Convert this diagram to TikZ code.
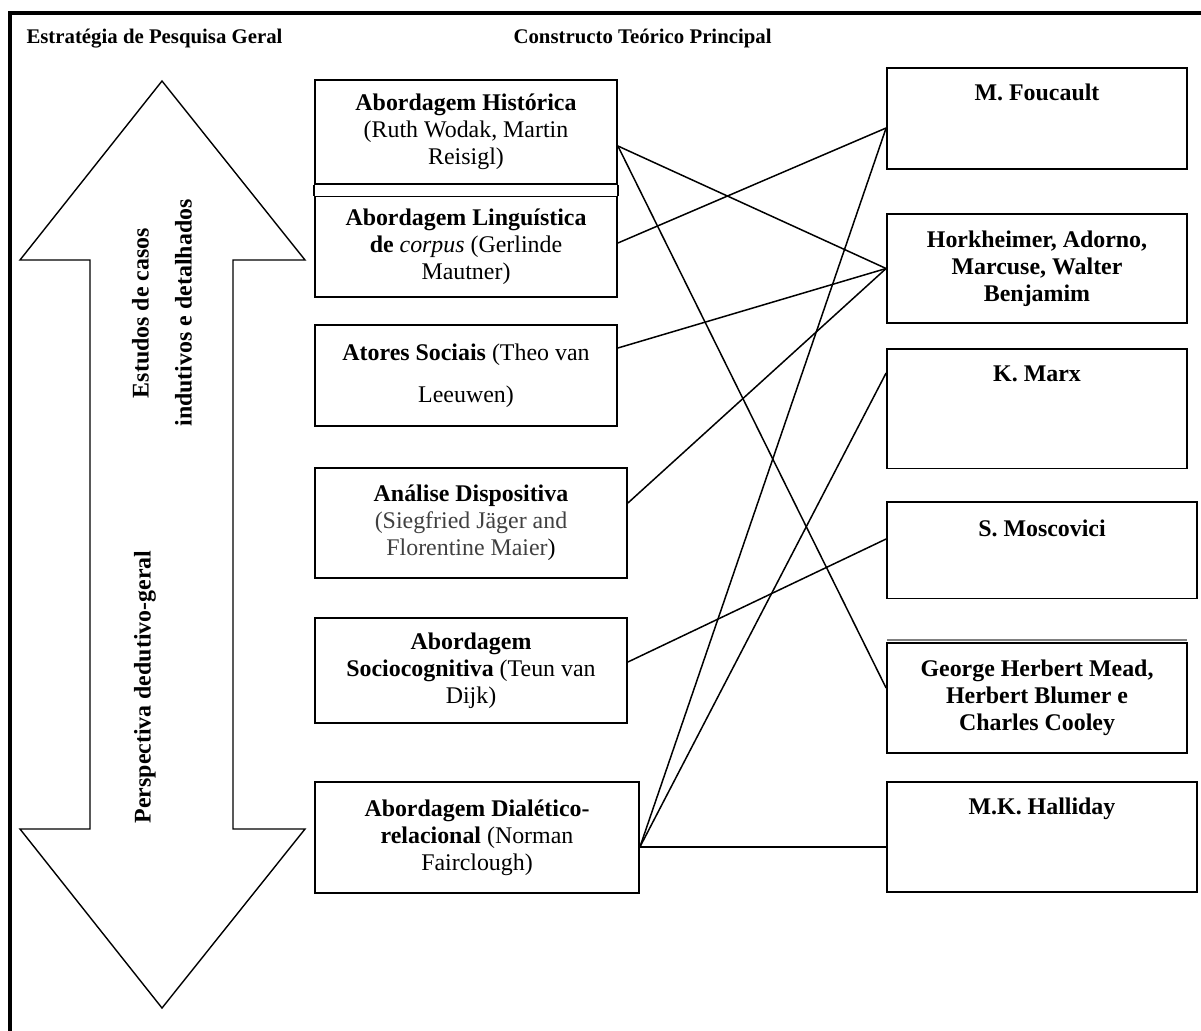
\documentclass[tikz,border=0pt]{standalone}
\usepackage{fontspec}
\setmainfont{Liberation Serif}
\definecolor{namegray}{HTML}{404040}
\newcommand{\boxfont}{\fontsize{23.9}{27}\selectfont}
\newcommand{\headfont}{\fontsize{20.8}{24}\selectfont\bfseries}
\tikzset{
	box/.style={draw,line width=1.8pt,inner sep=0pt,align=center,font=\boxfont},
	toptext/.style={anchor=base,yshift=-33pt,font=\boxfont\bfseries},
	link/.style={line width=1.5pt},
}
\begin{document}
\begin{tikzpicture}[x=1pt,y=-1pt]
			\useasboundingbox (0,0) rectangle (1201,1030);
			% Frame
			\draw[line width=4pt] (10,1040) -- (10,13) -- (1210,13);
			\node[anchor=base west,font=\headfont] (strat) at (23,43.5) {Estratégia de Pesquisa Geral};
			\node[anchor=base west,font=\headfont] (constr) at (510,43.5) {Constructo Teórico Principal};
			% Double arrow
			\draw[line width=1.4pt,line join=miter] (162,81) -- (305,260) -- (233,260) -- (233,829) -- (305,829) -- (162,1008) -- (20,829) -- (90,829) -- (90,260) -- (20,260) -- cycle;
			\node[rotate=90,align=center,font=\boxfont\bfseries] (indut) at (162,313) {Estudos de casos\\[16pt]indutivos e detalhados};
			\node[rotate=90,font=\boxfont\bfseries] (dedut) at (145,687) {Perspectiva dedutivo-geral};
			% Approaches
			\node[box,minimum width=302pt,minimum height=104pt] (hist) at (466,132) {\textbf{Abordagem Histórica}\\(Ruth Wodak, Martin\\Reisigl)};
			\node[box,minimum width=302pt,minimum height=100.5pt] (ling) at (466,246.75) {\textbf{Abordagem Linguística}\\\textbf{de} \textit{corpus} (Gerlinde\\Mautner)};
			\draw[line width=1.8pt] (hist.south west) -- (ling.north west);
			\draw[line width=1.8pt] (hist.south east) -- (ling.north east);
			\node[box,minimum width=302pt,minimum height=101pt] (atores) at (466,375.5) {\textbf{Atores Sociais} (Theo van\\[15pt]Leeuwen)};
			\node[box,minimum width=312pt,minimum height=110pt] (analise) at (471,523) {\textbf{Análise Dispositiva}\\\textcolor{namegray}{(Siegfried Jäger and}\\\textcolor{namegray}{Florentine Maier})};
			\node[box,minimum width=312pt,minimum height=105pt] (socio) at (471,670.75) {\textbf{Abordagem}\\\textbf{Sociocognitiva} (Teun van\\Dijk)};
			\node[box,minimum width=324pt,minimum height=111pt] (dial) at (477,837.5) {\textbf{Abordagem Dialético-}\\\textbf{relacional} (Norman\\Fairclough)};
			% Theories
			\node[box,minimum width=300pt,minimum height=101pt,label={[toptext]north:M. Foucault}] (fouc) at (1037,118.5) {};
			\node[box,minimum width=300pt,minimum height=109pt,font=\boxfont\bfseries] (hork) at (1037,268.5) {Horkheimer, Adorno,\\Marcuse, Walter\\Benjamim};
			\node[box,minimum width=300pt,minimum height=119.5pt,label={[toptext]north:K. Marx}] (marx) at (1037,408.75) {};
			\node[box,minimum width=310pt,minimum height=96.5pt,label={[toptext,yshift=-2pt]north:S. Moscovici}] (mosc) at (1042,550.25) {};
			\draw[gray,line width=1.2pt] ([yshift=3pt]887,643) -- ([yshift=3pt]1187,643);
			\node[box,minimum width=300pt,minimum height=110pt,font=\boxfont\bfseries] (mead) at (1037,698) {George Herbert Mead,\\Herbert Blumer e\\Charles Cooley};
			\node[box,minimum width=310pt,minimum height=110pt,label={[toptext]north:M.K. Halliday}] (hall) at (1042,837) {};
			% Links
			\draw[link] ([yshift=-14pt]hist.east) -- (hork.west);
			\draw[link] ([yshift=-14pt]hist.east) -- ([yshift=10pt]mead.west);
			\draw[link] ([yshift=3.75pt]ling.east) -- ([yshift=-9.5pt]fouc.west);
			\draw[link] ([yshift=27.5pt]atores.east) -- (hork.west);
			\draw[link] ([yshift=20pt]analise.east) -- (hork.west);
			\draw[link] ([yshift=8.75pt]socio.east) -- ([yshift=11.25pt]mosc.west);
			\draw[link] ([yshift=-9.5pt]dial.east) -- ([yshift=-9.5pt]fouc.west);
			\draw[link] ([yshift=-9.5pt]dial.east) -- ([yshift=35.75pt]marx.west);
			\draw[link] ([yshift=-9.5pt]dial.east) -- ([yshift=-10pt]hall.west);
		\end{tikzpicture}
\end{document}
